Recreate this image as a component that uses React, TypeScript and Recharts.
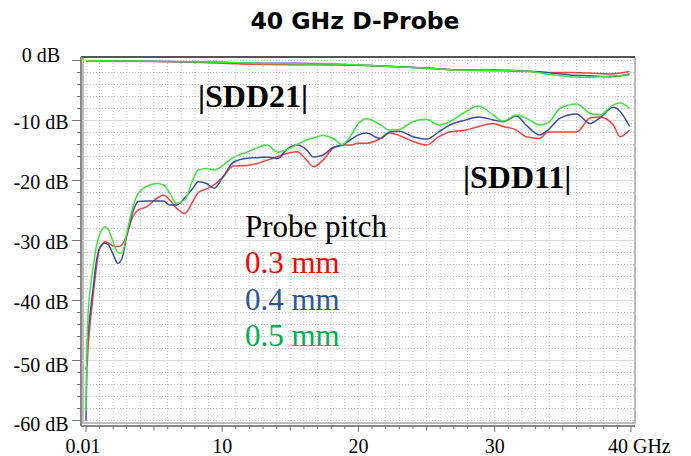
import React from 'react';
import { LineChart, Line, XAxis, YAxis, CartesianGrid, ReferenceLine, ReferenceArea } from 'recharts';

// ---- Data ----
const freq11 = [0.01, 0.05, 0.1, 0.17, 0.25, 0.35, 0.45, 0.6, 0.75, 0.95, 1.15, 1.4, 1.65, 2.0, 2.35, 2.65, 3.0, 3.45, 3.85, 4.45, 5.2, 5.7, 6.15, 6.65, 7.25, 7.85, 8.25, 8.85, 9.4, 10.1, 10.8, 11.8, 12.5, 13.3, 14.1, 14.7, 15.5, 16.2, 16.7, 17.4, 18.15, 18.8, 19.4, 20.0, 20.6, 21.6, 22.3, 23.0, 24.0, 25.0, 25.9, 26.7, 27.9, 28.8, 29.9, 30.6, 31.6, 32.3, 33.3, 33.9, 34.8, 36.0, 37.0, 37.7, 38.7, 39.2, 39.9];
const sdd11_03 = [-51.5, -51, -50.5, -47.7, -45.5, -43, -41, -37.8, -35, -31.8, -30.8, -30.2, -30.4, -30.9, -31, -30.7, -29.1, -26, -24.9, -24.4, -23, -22.4, -23.25, -24.6, -25.5, -23.5, -22, -21.4, -20.75, -19.3, -17.6, -17.5, -17.2, -16.6, -16, -15.5, -15.2, -16.6, -17.7, -16.6, -14.6, -14.1, -14.1, -13.8, -13.8, -13, -12.1, -12.5, -13.5, -14.1, -12.7, -11.9, -11.6, -11, -10.5, -11, -11.6, -12.7, -13, -11.9, -11.9, -11.9, -9.6, -9.4, -10.75, -12.7, -11.6];
const sdd11_04 = [-60, -54, -47.7, -45.5, -43.5, -41.5, -39.5, -36.6, -33.8, -31.6, -30.8, -30.4, -30.7, -32.3, -33.8, -33, -29.2, -25.2, -23.5, -23.4, -23.4, -23.4, -24.1, -24.1, -22.9, -21.3, -20.2, -20.5, -21.3, -19.3, -17, -16.3, -16.2, -16.1, -16.3, -14.9, -14.1, -14.9, -16.1, -15.75, -14.5, -14.1, -13.25, -12.4, -12.1, -13, -11.9, -11.8, -12.7, -13.1, -11.9, -10.75, -9.9, -9.4, -9.9, -10.2, -9.25, -10.75, -12.4, -11.6, -9.6, -8.9, -10.5, -9.6, -7.8, -8.5, -11];
const sdd11_05 = [-58.5, -52, -46.6, -42, -39.5, -37.5, -35.8, -33.5, -31.2, -29.4, -28.3, -27.7, -28.2, -30.2, -32, -32.1, -28.8, -24.4, -22.1, -21, -20.5, -20.75, -22.1, -23.8, -23.25, -19.9, -18.25, -18, -18.25, -17.4, -16.2, -15.3, -14.6, -14.1, -15.3, -14.9, -14, -13.25, -12.9, -12.5, -13, -14, -12.7, -10.5, -9.7, -10.7, -11.6, -11.5, -10.2, -9.8, -10.75, -10.2, -8.5, -7.6, -9.1, -10.1, -9.1, -9.6, -10.75, -10.4, -8, -7.25, -8.8, -9.1, -7.4, -7.1, -8];

const freq21 = [0.01, 5, 10, 13, 15.5, 18, 21.6, 25.2, 27.4, 30.2, 32.6, 33.8, 35.5, 37, 38.5, 39.9];
const sdd21_03 = [-0.05, -0.15, -0.45, -0.65, -0.7, -0.75, -0.9, -1.3, -1.6, -1.7, -1.85, -2.0, -2.0, -2.1, -2.25, -1.85];
const sdd21_04 = [-0.05, -0.12, -0.3, -0.45, -0.45, -0.6, -0.9, -1.3, -1.55, -1.6, -1.8, -2.0, -2.4, -2.55, -2.7, -2.25];
const sdd21_05 = [-0.05, -0.12, -0.3, -0.5, -0.55, -0.6, -0.9, -1.3, -1.6, -1.65, -1.85, -2.25, -2.7, -2.8, -2.6, -2.4];

const seriesNames = ['0.3 mm', '0.4 mm', '0.5 mm'];
const lineColors = ['#ff4040', '#3c4ea0', '#3de83d'];
const textColors = ['#ff0000', '#2f5597', '#00b050'];

const xTicks = [0.01, ...Array.from({ length: 40 }, (_, i) => i + 1)];
const xLabels: Record<string, string> = { '0.01': '0.01', '10': '10', '20': '20', '30': '30', '40': '40 GHz' };
const yTicks = Array.from({ length: 31 }, (_, i) => -60 + 2 * i);
const yMajor = [-50, -40, -30, -20, -10];

const toRows = (fs: number[], vs: number[]) => fs.map((f, i) => ({ f, v: vs[i] }));
const s11 = [sdd11_03, sdd11_04, sdd11_05].map((vs) => toRows(freq11, vs));
const s21 = [sdd21_03, sdd21_04, sdd21_05].map((vs) => toRows(freq21, vs));

const X_DOMAIN: [number, number] = [-0.357, 40.294];
const Y_DOMAIN: [number, number] = [-60.917, 0.583];
const serif = '"Liberation Serif", "Times New Roman", serif';

const YTick = (props: any) => {
  const { x, y, payload } = props;
  const v = payload.value;
  const major = v % 10 === 0;
  const dy = v === 0 ? -5 : v === -50 ? 5 : v === -60 ? 4 : 1.5;
  return (
    <g>
      <line x1={x - (major ? 9 : 4)} y1={y} x2={x} y2={y} stroke="#777" strokeWidth={1} />
      {major && (
        <text x={x - 40} y={y + dy} textAnchor="middle" dominantBaseline="central" fontFamily={serif} fontSize={20} fill="#000">
          {v} dB
        </text>
      )}
    </g>
  );
};

const XTick = (props: any) => {
  const { x, y, payload } = props;
  const v = payload.value;
  const label = xLabels[String(v)];
  const len = label ? 6 : v % 5 === 0 ? 4.5 : 3;
  return (
    <g>
      <line x1={x} y1={y} x2={x} y2={y + len} stroke="#777" strokeWidth={1} />
      {label && (
        <text
          x={v === 40 ? x - 23 : v === 0.01 ? x - 3 : x}
          y={y + 27}
          textAnchor={v === 40 ? 'start' : 'middle'}
          fontFamily={serif}
          fontSize={20}
          fill="#000"
        >
          {label}
        </text>
      )}
    </g>
  );
};

export default function App() {
  return (
    <div style={{ position: 'absolute', left: 0, top: 0, width: 691, height: 456, background: '#fff' }}>
      <LineChart width={691} height={456} margin={{ top: 57, right: 56, left: 0, bottom: 0 }}>
        <CartesianGrid stroke="#c4c4c4" strokeDasharray="1 2" horizontal={true} vertical={true} />
        {yMajor.map((v) => (
          <ReferenceLine key={'ym' + v} y={v} stroke="#dcdcdc" strokeWidth={1} />
        ))}
        <ReferenceArea x1={-0.21} x2={40.294} y1={-60.417} y2={0.583} fill="none" stroke="#a8a8a8" strokeWidth={1.5} ifOverflow="visible" />
        <ReferenceLine y={0.583} stroke="#333" strokeWidth={1.5} ifOverflow="visible" />
        <XAxis
          dataKey="f"
          type="number"
          domain={X_DOMAIN}
          allowDataOverflow
          ticks={xTicks}
          interval={0}
          height={30}
          tickSize={0}
          tickMargin={0}
          tickLine={false}
          axisLine={{ stroke: '#888', strokeWidth: 2 }}
          tick={<XTick />}
        />
        <YAxis
          type="number"
          domain={Y_DOMAIN}
          allowDataOverflow
          ticks={yTicks}
          interval={0}
          width={81}
          tickSize={0}
          tickMargin={0}
          tickLine={false}
          axisLine={{ stroke: '#888', strokeWidth: 2 }}
          tick={<YTick />}
        />
        {s21.map((rows, i) => (
          <Line key={'s21' + i} data={rows} dataKey="v" type="monotone" stroke={lineColors[i]} strokeWidth={1.5} dot={false} isAnimationActive={false} name={'SDD21 ' + seriesNames[i]} />
        ))}
        {s11.map((rows, i) => (
          <Line key={'s11' + i} data={rows} dataKey="v" type="monotone" stroke={lineColors[i]} strokeWidth={1.5} dot={false} isAnimationActive={false} name={'SDD11 ' + seriesNames[i]} />
        ))}
      </LineChart>
      <svg width={691} height={456} style={{ position: 'absolute', left: 0, top: 0, pointerEvents: 'none' }}>
        <text x={355} y={29} textAnchor="middle" fontFamily='"DejaVu Sans", Verdana, sans-serif' fontWeight="bold" fontSize={23.5} fill="#000">
          40 GHz D-Probe
        </text>
        <text x={198} y={107} fontFamily={serif} fontWeight="bold" fontSize={32} fill="#000">|SDD21|</text>
        <text x={463} y={188} fontFamily={serif} fontWeight="bold" fontSize={32} fill="#000">|SDD11|</text>
        <text x={245} y={237} fontFamily={serif} fontSize={31} fill="#000">Probe pitch</text>
        {seriesNames.map((n, i) => (
          <text key={n} x={245} y={273 + i * 36.5} fontFamily={serif} fontSize={31} fill={textColors[i]}>
            {n}
          </text>
        ))}
      </svg>
    </div>
  );
}
